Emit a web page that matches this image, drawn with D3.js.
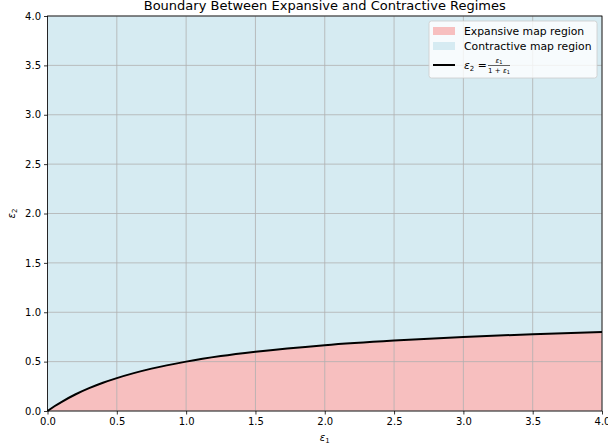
<!DOCTYPE html>
<html>
<head>
<meta charset="utf-8">
<script src="https://cdn.jsdelivr.net/npm/d3@7"></script>
<style>
  body { margin: 0; background: #fff; }
  text { font-family: "DejaVu Sans", sans-serif; }
</style>
</head>
<body>
<svg id="chart" width="608" height="448"></svg>
<script>
// boundary points
const eps1 = [0, 0.05, 0.1, 0.2, 0.3, 0.4, 0.5, 0.75, 1, 1.25, 1.5, 2, 2.5, 3, 3.5, 4];
const eps2 = [0, 0.048, 0.091, 0.167, 0.231, 0.286, 0.333, 0.429, 0.5, 0.556, 0.6, 0.667, 0.714, 0.75, 0.778, 0.8];
const ticks = [0, 0.5, 1, 1.5, 2, 2.5, 3, 3.5, 4];
const legendLabels = ["Expansive map region", "Contractive map region"];
const title = "Boundary Between Expansive and Contractive Regimes";

const data = eps1.map((x, i) => ({x, y: eps2[i]}));

const margin = {top: 16, right: 6, bottom: 37, left: 47.5};
const width = 608, height = 448;
const svg = d3.select("#chart");

const x = d3.scaleLinear().domain([0, 4]).range([margin.left, width - margin.right]);
const y = d3.scaleLinear().domain([0, 4]).range([height - margin.bottom, margin.top]);

const blue = "#d6ebf2", pink = "#f7bfbf";

// contractive region (above curve)
svg.append("path")
    .attr("fill", blue)
    .attr("d", d3.area().x(d => x(d.x)).y0(y(4)).y1(d => y(d.y)).curve(d3.curveMonotoneX)(data));

// expansive region (below curve)
svg.append("path")
    .attr("fill", pink)
    .attr("d", d3.area().x(d => x(d.x)).y0(y(0)).y1(d => y(d.y)).curve(d3.curveMonotoneX)(data));

// grid
const grid = svg.append("g").attr("stroke", "#b0b0b0").attr("stroke-width", 0.8);
grid.selectAll(".gx").data(ticks).join("line")
    .attr("x1", d => x(d)).attr("x2", d => x(d))
    .attr("y1", y(0)).attr("y2", y(4));
grid.selectAll(".gy").data(ticks).join("line")
    .attr("y1", d => y(d)).attr("y2", d => y(d))
    .attr("x1", x(0)).attr("x2", x(4));

// boundary curve
svg.append("path")
    .attr("fill", "none")
    .attr("stroke", "#000")
    .attr("stroke-width", 2)
    .attr("d", d3.line().x(d => x(d.x)).y(d => y(d.y)).curve(d3.curveMonotoneX)(data));

// axes
const xAxis = svg.append("g")
    .attr("transform", `translate(0,${y(0)})`)
    .call(d3.axisBottom(x).tickValues(ticks).tickFormat(d3.format(".1f")).tickSize(3.5).tickSizeOuter(0).tickPadding(3));
const yAxis = svg.append("g")
    .attr("transform", `translate(${x(0)},0)`)
    .call(d3.axisLeft(y).tickValues(ticks).tickFormat(d3.format(".1f")).tickSize(3.5).tickSizeOuter(0).tickPadding(3));
[xAxis, yAxis].forEach(a => {
  a.selectAll("text").attr("font-size", 10).attr("fill", "#000").style("font-family", "DejaVu Sans");
  a.selectAll(".tick line").attr("stroke", "#000").attr("stroke-width", 0.8);
  a.select(".domain").remove();
});

// frame
svg.append("rect")
    .attr("x", x(0)).attr("y", y(4))
    .attr("width", x(4) - x(0)).attr("height", y(0) - y(4))
    .attr("fill", "none").attr("stroke", "#000").attr("stroke-width", 0.8);

// title and axis labels
svg.append("text")
    .attr("x", (x(0) + x(4)) / 2).attr("y", 10)
    .attr("text-anchor", "middle").attr("font-size", 13)
    .text(title);

const xl = svg.append("text")
    .attr("x", (x(0) + x(4)) / 2).attr("y", 441)
    .attr("text-anchor", "middle").attr("font-size", 10).attr("font-style", "italic");
xl.append("tspan").text("ε");
xl.append("tspan").attr("font-size", 7).attr("dy", 2).attr("font-style", "normal").text("1");

const yl = svg.append("text")
    .attr("transform", `translate(15,${(y(0) + y(4)) / 2}) rotate(-90)`)
    .attr("text-anchor", "middle").attr("font-size", 10).attr("font-style", "italic");
yl.append("tspan").text("ε");
yl.append("tspan").attr("font-size", 7).attr("dy", 2).attr("font-style", "normal").text("2");

// legend
const lg = svg.append("g").attr("transform", "translate(429,21)");
lg.append("rect")
    .attr("width", 168).attr("height", 57).attr("rx", 2.5)
    .attr("fill", "#fff").attr("fill-opacity", 0.8)
    .attr("stroke", "#ccc").attr("stroke-width", 0.8);
[pink, blue].forEach((c, i) => {
  lg.append("rect").attr("x", 4).attr("y", 6 + i * 15).attr("width", 22).attr("height", 8).attr("fill", c);
  lg.append("text").attr("x", 35).attr("y", 14 + i * 15).attr("font-size", 10.8).text(legendLabels[i]);
});
lg.append("line").attr("x1", 4).attr("x2", 26).attr("y1", 44).attr("y2", 44)
    .attr("stroke", "#000").attr("stroke-width", 2);
const eq = lg.append("text").attr("x", 35).attr("y", 47.5).attr("font-size", 10.8);
eq.append("tspan").attr("font-style", "italic").text("ε");
eq.append("tspan").attr("font-size", 7).attr("dy", 2).text("2");
eq.append("tspan").attr("dy", -2).text(" = ");
const fx = 70;
lg.append("line").attr("x1", fx - 11).attr("x2", fx + 11).attr("y1", 44.5).attr("y2", 44.5)
    .attr("stroke", "#000").attr("stroke-width", 0.6);
const num = lg.append("text").attr("x", fx).attr("y", 42).attr("font-size", 7).attr("text-anchor", "middle");
num.append("tspan").attr("font-style", "italic").text("ε");
num.append("tspan").attr("font-size", 5).attr("dy", 1).text("1");
const den = lg.append("text").attr("x", fx).attr("y", 51.5).attr("font-size", 7).attr("text-anchor", "middle");
den.append("tspan").text("1 + ");
den.append("tspan").attr("font-style", "italic").text("ε");
den.append("tspan").attr("font-size", 5).attr("dy", 1).text("1");
</script>
</body>
</html>
